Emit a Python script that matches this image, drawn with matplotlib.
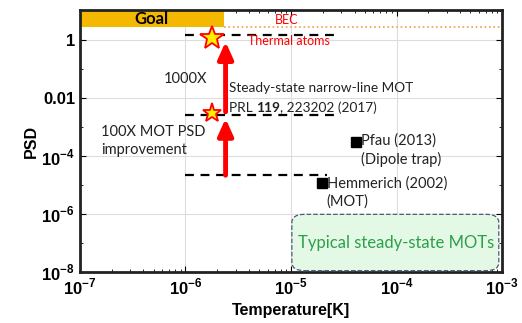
import numpy as np
import matplotlib.pyplot as plt
from matplotlib.patches import FancyBboxPatch
from matplotlib.ticker import LogLocator, NullFormatter

plt.rcParams['font.family'] = ['Liberation Sans', 'DejaVu Sans']
plt.rcParams['mathtext.fontset'] = 'custom'
plt.rcParams['mathtext.rm'] = 'Liberation Sans:bold'
plt.rcParams['mathtext.bf'] = 'Liberation Sans:bold'

# data
star_T = [1.8e-6, 1.8e-6]
star_psd = [1.2, 3.2e-3]
level_psd = [1.5, 2.6e-3, 2.2e-5]
level_end = [2.6e-5, 2.6e-5, 2.2e-5]
arrow_T = 2.4e-6
arrows = [(2.2e-5, 2.0e-3), (3.4e-3, 0.9)]
ref_T = [4.1e-5, 1.95e-5]
ref_psd = [3.0e-4, 1.2e-5]
ref_labels = ["Pfau (2013)\n(Dipole trap)", "Hemmerich (2002)\n(MOT)"]
ref_lift = [2.0, 1.7]
goal_psd = 2.8
goal_T = 2.3e-6

lato = ['Lato', 'DejaVu Sans']
note = dict(family=lato, color='#222222')

fig = plt.figure(figsize=(5.22, 3.23), dpi=100)
ax = fig.add_axes([0.153, 0.158, 0.809, 0.811])
ax.set_xscale('log')
ax.set_yscale('log')
ax.set_xlim(1e-7, 1e-3)
ax.set_ylim(1e-8, 10**1.05)

# goal band + BEC line
ax.fill_between([1e-7, goal_T], goal_psd, 10**1.05, color='#f5b800', zorder=2, lw=0)
ax.plot([goal_T, 1e-3], [goal_psd, goal_psd], ls=':', color='#f0a040', lw=1.2, zorder=2)
ax.text(np.sqrt(1e-7 * goal_T), 5.3, 'Goal', ha='center', va='center',
        fontsize=12, fontweight='bold', zorder=3, family=lato)
ax.text(7.0e-6, 5.0, 'BEC', color='red', fontsize=9, ha='left', va='center', family=lato)
ax.text(3.9e-6, 0.95, 'Thermal atoms', color='red', fontsize=9, ha='left', va='center',
        zorder=4, family=lato)

# dashed levels
for y, x1 in zip(level_psd, level_end):
    ax.plot([1e-6, x1], [y, y], ls=(0, (4, 3)), color='black', lw=1.6, zorder=3)

# arrows
for y0, y1 in arrows:
    ax.annotate('', xy=(arrow_T, y1), xytext=(arrow_T, y0),
                arrowprops=dict(arrowstyle='-|>,head_width=0.45,head_length=1.0',
                                color='red', lw=3.5, shrinkA=0, shrinkB=0), zorder=4)

ax.plot(star_T[:1], star_psd[:1], marker='*', ms=18, color='#ffee00',
        mec='red', mew=1.3, ls='none', zorder=5)
ax.plot(star_T[1:], star_psd[1:], marker='*', ms=14, color='#ffee00',
        mec='red', mew=1.3, ls='none', zorder=5)

ax.plot(ref_T, ref_psd, 's', color='black', ms=7, zorder=5)
for x, y, lab, k in zip(ref_T, ref_psd, ref_labels, ref_lift):
    ax.text(x * 1.12, y * k, lab, fontsize=10.5, ha='left', va='top',
            linespacing=1.3, **note)

ax.text(1.0e-6, 0.045, '1000X', fontsize=10.5, ha='center', va='center', **note)
ax.text(2.6e-6, 0.022, 'Steady-state narrow-line MOT', fontsize=9.8, ha='left',
        va='center', **note)
t1 = ax.text(2.6e-6, 0.0048, 'PRL ', fontsize=9.8, ha='left', va='center', **note)
t2 = ax.annotate('119', xycoords=t1, xy=(1, 0.5), ha='left', va='center',
                 fontsize=9.8, fontweight='bold', **note)
ax.annotate(', 223202 (2017)', xycoords=t2, xy=(1, 0.5), ha='left', va='center',
            fontsize=9.8, **note)
ax.text(1.6e-7, 3.3e-4, '100X MOT PSD\nimprovement', fontsize=10.5, ha='left',
        va='center', linespacing=1.35, **note)

# typical MOT box
box = FancyBboxPatch((0.502, 0.005), 0.49, 0.215, transform=ax.transAxes,
                     boxstyle='round,pad=0,rounding_size=0.03',
                     fc='#e4f8e6', ec='#4a5a78', ls='--', lw=0.9, zorder=3)
ax.add_patch(box)
ax.text(0.748, 0.11, 'Typical steady-state MOTs', transform=ax.transAxes,
        fontsize=12, color='#2ca048', ha='center', va='center', zorder=4, family=lato)

ax.set_yticks([1e-8, 1e-6, 1e-4, 1e-2, 1])
ax.set_yticklabels([r'$10^{-8}$', r'$10^{-6}$', r'$10^{-4}$', '0.01', '1'])
ax.yaxis.set_minor_locator(LogLocator(base=10, subs=(1.0,), numticks=20))
ax.yaxis.set_minor_formatter(NullFormatter())
ax.set_xticks([1e-7, 1e-6, 1e-5, 1e-4, 1e-3])
ax.set_xticklabels([r'$10^{-7}$', r'$10^{-6}$', r'$10^{-5}$', r'$10^{-4}$', r'$10^{-3}$'])
ax.tick_params(which='both', direction='in', top=True, right=True)
ax.tick_params(which='major', labelsize=12, length=4)
ax.tick_params(which='minor', length=2)
for lab in ax.get_yticklabels() + ax.get_xticklabels():
    lab.set_fontweight('bold')
ax.grid(True, which='major', color='#dddddd', lw=0.8, zorder=0)
ax.set_axisbelow(True)
for s in ax.spines.values():
    s.set_linewidth(2)
    s.set_color('#222222')

ax.set_xlabel('Temperature[K]', fontsize=11.5, fontweight='bold')
ax.set_ylabel('PSD', fontsize=11.5, fontweight='bold', labelpad=2)

fig.savefig('out.png', dpi=100)
